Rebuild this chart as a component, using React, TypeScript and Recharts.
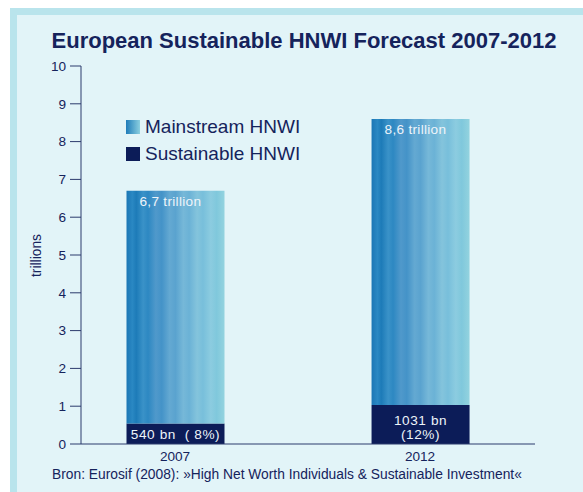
import React from 'react';
import { BarChart, Bar, XAxis, YAxis, LabelList, Legend } from 'recharts';

const years = ['2007', '2012'];
const mainstreamTotals = [6.7, 8.6];
const sustainableValues = [0.54, 1.031];
const mainstreamLabels = ['6,7 trillion', '8,6 trillion'];
const sustainableLabels = [['540 bn  ( 8%)'], ['1031 bn', '(12%)']];
const yTicks = [0, 1, 2, 3, 4, 5, 6, 7, 8, 9, 10];
const seriesNames = ['Mainstream HNWI', 'Sustainable HNWI'];

const data = years.map((y, i) => ({
  x: i,
  year: y,
  sustainable: sustainableValues[i],
  mainstream: +(mainstreamTotals[i] - sustainableValues[i]).toFixed(3),
}));

const NAVY = '#15235c';
const DARK = '#0c1c58';
const FONT = '"Liberation Sans", Arial, Helvetica, sans-serif';

const stripeStops: [number, string][] = [
  [0, '#1b76b5'], [0.06, '#2a88c3'], [0.1, '#1d7bb8'], [0.17, '#3a92c8'], [0.22, '#2d88c2'],
  [0.3, '#5099cb'], [0.36, '#4493c8'], [0.44, '#64a9d2'], [0.5, '#5aa3cf'], [0.58, '#76b8d8'],
  [0.64, '#6bb2d6'], [0.72, '#84c4dc'], [0.78, '#78bfdb'], [0.86, '#8ccce0'], [0.92, '#80c8dc'], [1, '#93d3df'],
];

const MainLabel = (props: any) => {
  const { x, y, index } = props;
  return (
    <text x={x + 13} y={y + 15} fill="#eef4fa" fontSize={13.6} fontFamily={FONT} letterSpacing={0.3}>
      {mainstreamLabels[index]}
    </text>
  );
};

const SustLabel = (props: any) => {
  const { x, y, width, height, index } = props;
  const lines = sustainableLabels[index];
  const cx = x + width / 2;
  const lh = 14;
  const startY = y + height - 5 - (lines.length - 1) * lh;
  return (
    <text fill="#eef4fa" fontSize={13.6} fontFamily={FONT} textAnchor="middle" letterSpacing={0.6}>
      {lines.map((l, i) => (
        <tspan key={i} x={cx} y={startY + i * lh} style={{ whiteSpace: 'pre' }}>{l}</tspan>
      ))}
    </text>
  );
};

const LegendContent = () => (
  <div style={{ fontFamily: FONT }}>
    {seriesNames.map((n, i) => (
      <div key={n} style={{ display: 'flex', alignItems: 'center', height: 27, color: NAVY, fontSize: 19, whiteSpace: 'nowrap' }}>
        <span
          style={{
            display: 'inline-block', width: 14, height: 14, marginRight: 5,
            background: i === 0 ? 'linear-gradient(90deg, #1f7cb9, #8bcfe0)' : DARK,
          }}
        />
        {n}
      </div>
    ))}
  </div>
);

export default function App() {
  return (
    <div style={{ position: 'absolute', left: 0, top: 0, width: 583, height: 492, background: '#ffffff', overflow: 'hidden' }}>
      <div style={{ position: 'absolute', left: 10, top: 8, width: 600, height: 500, background: '#b9e4ec' }} />
      <div style={{ position: 'absolute', left: 17, top: 15, width: 600, height: 500, background: '#e2f4f8' }} />
      <div style={{ position: 'absolute', left: 0, top: 28, width: 608, textAlign: 'center', fontFamily: FONT, fontWeight: 'bold', fontSize: 22, color: NAVY, whiteSpace: 'nowrap' }}>
        European Sustainable HNWI Forecast 2007-2012
      </div>
      <div style={{ position: 'absolute', left: 30, top: 230, width: 12, height: 50, display: 'flex', alignItems: 'center', justifyContent: 'center' }}>
        <div style={{ transform: 'rotate(-90deg)', fontFamily: FONT, fontSize: 13.8, color: NAVY, whiteSpace: 'nowrap' }}>trillions</div>
      </div>
      <div style={{ position: 'absolute', left: 52, top: 467, fontFamily: FONT, fontSize: 13.8, color: NAVY, whiteSpace: 'nowrap' }}>
        Bron: Eurosif (2008): »High Net Worth Individuals &amp; Sustainable Investment«
      </div>
      <div style={{ position: 'absolute', left: 0, top: 0 }}>
        <BarChart width={583} height={492} data={data} margin={{ top: 66, right: 48, bottom: 18, left: 0 }}>
          <defs>
            <linearGradient id="mainGrad" x1="0" y1="0" x2="1" y2="0">
              {stripeStops.map(([o, c], i) => (
                <stop key={i} offset={o} stopColor={c} />
              ))}
            </linearGradient>
          </defs>
          <XAxis
            type="number"
            dataKey="x"
            domain={[-0.3837, 1.469]}
            ticks={[0, 1]}
            allowDataOverflow
            tickFormatter={(v: number) => years[v]}
            height={30}
            tickSize={0}
            tickMargin={7}
            stroke="#2b3a6c"
            tick={{ fill: NAVY, fontSize: 13.6, fontFamily: FONT }}
          />
          <YAxis
            domain={[0, 10]}
            ticks={yTicks}
            width={81}
            tickSize={11}
            tickMargin={4}
            stroke="#2b3a6c"
            tick={{ fill: NAVY, fontSize: 13.6, fontFamily: FONT }}
          />
          <Legend
            layout="vertical"
            align="center"
            verticalAlign="middle"
            content={<LegendContent />}
            wrapperStyle={{ left: 126, top: 113, width: 220, height: 60 }}
          />
          <Bar dataKey="sustainable" stackId="a" fill={DARK} barSize={98} isAnimationActive={false} name={seriesNames[1]}>
            <LabelList content={<SustLabel />} />
          </Bar>
          <Bar dataKey="mainstream" stackId="a" fill="url(#mainGrad)" barSize={98} isAnimationActive={false} name={seriesNames[0]}>
            <LabelList content={<MainLabel />} />
          </Bar>
        </BarChart>
      </div>
    </div>
  );
}
